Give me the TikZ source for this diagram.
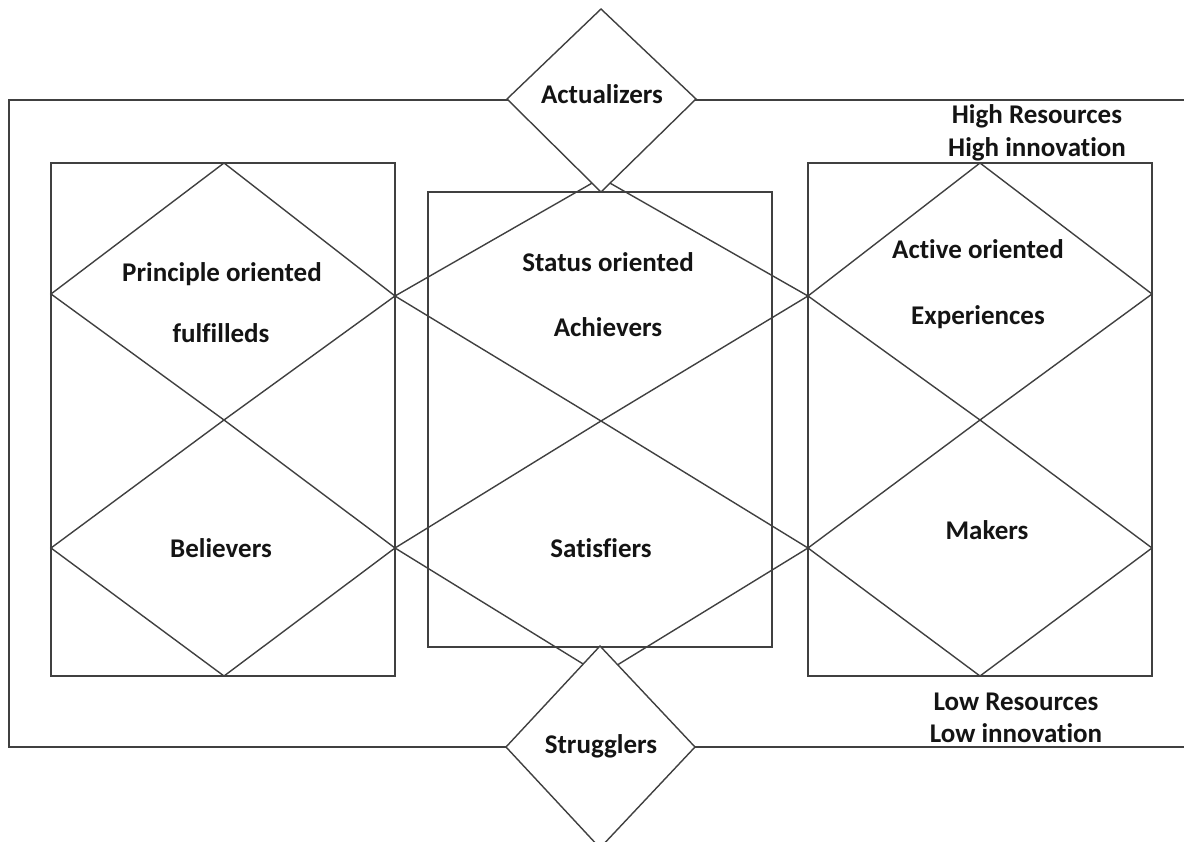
\documentclass[tikz,border=0pt]{standalone}
\usepackage{fontspec}
\setmainfont{Carlito}[Ligatures={NoCommon,NoRequired}]
\begin{document}
\begin{tikzpicture}[x=1pt,y=-1pt,
  ln/.style={draw=black!75, line width=1.4pt, line join=miter},
  lbl/.style={font=\fontsize{27}{32}\selectfont\bfseries, text=black!92, anchor=base, inner sep=0pt},
  dia/.style={ln, fill=white}]
\useasboundingbox (0,0) rectangle (1184,842);
% outer frame (open on the right)
\coordinate (o1) at (1184,100);
\coordinate (o2) at (9,100);
\coordinate (o3) at (9,747);
\coordinate (o4) at (1184,747);
\draw[ln] (o1) -- (o2) -- (o3) -- (o4);
% three boxes
\draw[ln] (51,163) rectangle (395,676);
\draw[ln] (428,192) rectangle (772,647);
\draw[ln] (808,163) rectangle (1152,676);
% left diamonds
\draw[ln] (51,294) -- (224,163) -- (395,296) -- (224,420) -- cycle;
\draw[ln] (51,548) -- (224,420) -- (395,548) -- (224,676) -- cycle;
% middle diamonds
\draw[ln] (395,296) -- (601,178) -- (808,296) -- (601,421) -- cycle;
\draw[ln] (395,548) -- (601,421) -- (808,548) -- (601,675) -- cycle;
% right diamonds
\draw[ln] (808,296) -- (980,163) -- (1152,294) -- (980,420) -- cycle;
\draw[ln] (808,548) -- (980,420) -- (1152,548) -- (980,676) -- cycle;
% top and bottom diamonds
\draw[dia] (507,99) -- (601,9) -- (696,99) -- (601,192) -- cycle;
\draw[dia] (506,747) -- (600,646) -- (695,747) -- (600,848) -- cycle;
% labels
\node[lbl] (act) at (602,104) {Actualizers};
\node[lbl] (str) at (601,753) {Strugglers};
\node[lbl] (hr) at (1037,124) {High Resources};
\node[lbl] (hi) at (1037,157) {High innovation};
\node[lbl] (lr) at (1016,710) {Low Resources};
\node[lbl] (li) at (1016,742) {Low innovation};
\node[lbl] (po) at (222,282) {Principle oriented};
\node[lbl] (ful) at (221,343) {fulfilleds};
\node[lbl] (so) at (608,272) {Status oriented};
\node[lbl] (ach) at (608,337) {Achievers};
\node[lbl] (ao) at (978,259) {Active oriented};
\node[lbl] (exp) at (978,325) {Experiences};
\node[lbl] (bel) at (221,557) {Believers};
\node[lbl] (sat) at (601,557) {Satisfiers};
\node[lbl] (mak) at (987,539) {Makers};
\end{tikzpicture}
\end{document}
